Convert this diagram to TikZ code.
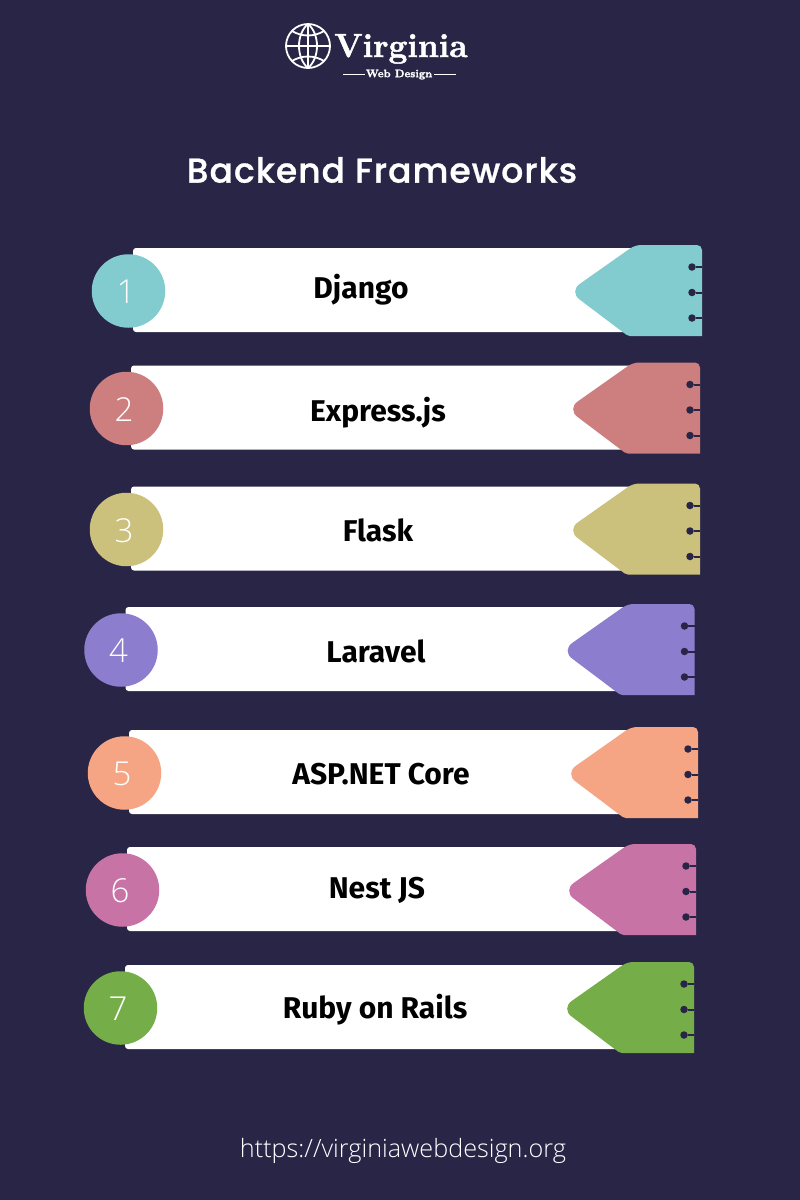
\documentclass[tikz,border=0pt]{standalone}
\usepackage{fontspec}
\setmainfont{Fira Sans}
\newfontfamily\titlefont[LetterSpace=3,FakeBold=0.8]{Poppins Medium}
\newfontfamily\numfont{Open Sans Light}
\newfontfamily\urlfont{Open Sans Light}
\newfontfamily\logofont[FakeBold=1.5]{Latin Modern Roman}
\definecolor{bgc}{HTML}{292546}
\definecolor{c1}{HTML}{82CCD0}
\definecolor{c2}{HTML}{CD7E7E}
\definecolor{c3}{HTML}{CBC07C}
\definecolor{c4}{HTML}{8C7DCE}
\definecolor{c5}{HTML}{F5A584}
\definecolor{c6}{HTML}{C873A6}
\definecolor{c7}{HTML}{75AD49}
\tikzset{
  barbox/.style={fill=white,rounded corners=3pt},
  numdisc/.style={circle,minimum size=73.5pt,inner sep=0pt},
  numtext/.style={text=white,font=\numfont\fontsize{33}{33}\selectfont},
  labeltext/.style={text=black,font=\bfseries\fontsize{30}{30}\selectfont},
  hole/.style={circle,fill=bgc,minimum size=7.5pt,inner sep=0pt},
  holeline/.style={draw=bgc,line width=2pt},
}
% #1 dx, #2 dy, #3 colour, #4 number, #5 label, #6 label x, #7 label y, #8 prefix
\newcommand{\rowitem}[8]{
  \begin{scope}[shift={(#1,#2)}]
    \fill[barbox] (133,248) rectangle (640,332);
    \fill[#3] (702,336) [rounded corners=2pt] -- (628,336)
      [rounded corners=13pt] -- (569,291.5) [rounded corners=6pt] -- (635,245)
      [rounded corners=5pt] -- (702,245) [rounded corners=0pt] -- cycle;
    \node[numdisc,fill=#3] (#8disc) at (128.5,291) {};
    \node[numtext] (#8num) at (126,292) {#4};
    \foreach \yy/\nn in {267/a,292.5/b,318/c}{
      \node[hole] (#8h\nn) at (692,\yy) {};
      \coordinate (#8e\nn) at (702,\yy);
      \draw[holeline] (#8h\nn) -- (#8e\nn);
    }
  \end{scope}
  \node[labeltext] (#8lab) at (#6,#7) {#5};
}
\begin{document}
\begin{tikzpicture}[x=1pt,y=-1pt]
\useasboundingbox (0,0) rectangle (800,1200);
\fill[bgc] (0,0) rectangle (800,1200);
% logo
\begin{scope}[draw=white,line width=1.8pt]
  \draw (308,46) circle (22);
  \draw (308,24) -- (308,68);
  \draw (286,46) -- (330,46);
  \draw (308,24) .. controls (296,34) and (296,58) .. (308,68);
  \draw (308,24) .. controls (320,34) and (320,58) .. (308,68);
  \draw (292,31) .. controls (302,37) and (314,37) .. (324,31);
  \draw (292,61) .. controls (302,55) and (314,55) .. (324,61);
\end{scope}
\node[text=white,font=\logofont\bfseries\fontsize{33.5}{33.5}\selectfont,anchor=base west,inner sep=0pt] (logo) at (334,57) {Virginia};
\node[text=white,font=\logofont\bfseries\fontsize{11}{11}\selectfont,inner sep=0pt] (logosub) at (399,74.5) {Web Design};
\coordinate (la) at (343,74.5); \coordinate (lb) at (365,74.5);
\coordinate (lc) at (434,74.5); \coordinate (ld) at (456,74.5);
\draw[white,line width=1.2pt] (la) -- (lb) (lc) -- (ld);
% title
\node[text=white,font=\titlefont\fontsize{34.5}{34.5}\selectfont] (title) at (382,170) {Backend Frameworks};
% rows
\rowitem{0}{0}{c1}{1}{Django}{361}{290}{A}
\rowitem{-2}{117.5}{c2}{2}{Express.js}{378}{412.5}{B}
\rowitem{-2}{238.5}{c3}{3}{Flask}{378}{530}{C}
\rowitem{-7.5}{359}{c4}{4}{Laravel}{376}{651}{D}
\rowitem{-4}{482}{c5}{5}{ASP.NET Core}{381}{774}{E}
\rowitem{-6}{599}{c6}{6}{Nest JS}{377}{890.5}{F}
\rowitem{-8}{717}{c7}{7}{Ruby on Rails}{375}{1010}{G}
% url
\node[text=white,font=\urlfont\fontsize{25.2}{25.2}\selectfont] (url) at (403,1151) {https://virginiawebdesign.org};
\end{tikzpicture}
\end{document}
